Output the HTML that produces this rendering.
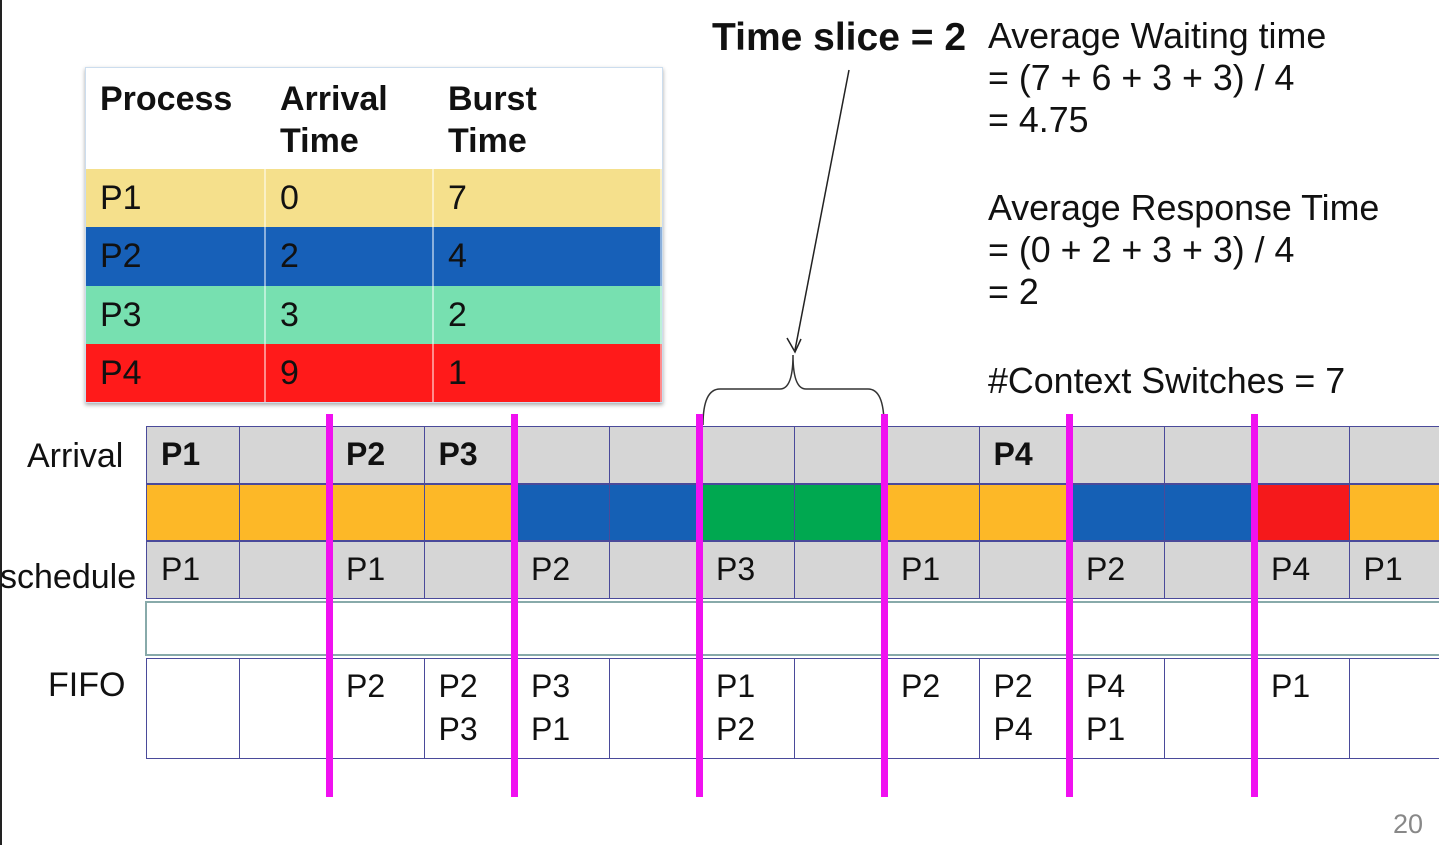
<!DOCTYPE html>
<html><head><meta charset="utf-8"><style>
body{margin:0;width:1439px;height:845px;background:#fff;position:relative;overflow:hidden;font-family:"Liberation Sans",Arial,sans-serif;color:#111}
.a{position:absolute}
.cell{position:absolute;box-sizing:border-box;border:1px solid #4a4a9a;font-size:32px;padding-left:14px}
.t{position:absolute;font-size:34px;line-height:42px}
.tb{position:absolute;box-sizing:border-box;font-size:34px;padding-left:14px;padding-top:10px;border-right:2px solid rgba(255,255,255,.5)}
</style></head><body>
<div class="a" style="left:0;top:0;width:2px;height:845px;background:#222"></div>

<div class="a" style="left:85px;top:67px;width:576px;height:334px;box-shadow:0 2px 4px #aaa;border:1px solid #cde">
  <div class="tb" style="left:0;top:0;width:180px;height:101px;font-weight:bold;line-height:42px">Process</div>
  <div class="tb" style="left:180px;top:0;width:168px;height:101px;font-weight:bold;line-height:42px">Arrival<br>Time</div>
  <div class="tb" style="left:348px;top:0;width:228px;height:101px;font-weight:bold;line-height:42px">Burst<br>Time</div>
  <div id="tbrows"></div>
</div>

<div class="t" style="left:712px;top:17px;font-weight:bold;font-size:39px">Time slice = 2</div>
<div class="t" style="left:988px;top:15px;font-size:35.8px">Average Waiting time<br>= (7 + 6 + 3 + 3) / 4<br>= 4.75</div>
<div class="t" style="left:988px;top:187px;font-size:35.8px">Average Response Time<br>= (0 + 2 + 3 + 3) / 4<br>= 2</div>
<div class="t" style="left:988px;top:360px;font-size:35.8px">#Context Switches = 7</div>

<svg class="a" style="left:0;top:0" width="1439" height="845">
  <line x1="849" y1="70" x2="795" y2="350" stroke="#222" stroke-width="1.5"/>
  <path d="M787 338 L795 352 L801 339" fill="none" stroke="#222" stroke-width="1.5"/>
  <path d="M703 425 Q703 389 720 389 L780 389 Q793 389 793 355 Q793 389 806 389 L868 389 Q884 389 884 425" fill="none" stroke="#333" stroke-width="1.5"/>
</svg>

<div class="t" style="left:27px;top:435px;font-size:34px">Arrival</div>
<div class="t" style="left:0;top:556px;font-size:34px">schedule</div>
<div class="t" style="left:48px;top:664px;font-size:34px">FIFO</div>

<div id="grid"></div>
<div class="a" style="left:145px;top:601px;width:1300px;height:55px;box-sizing:border-box;border:2px solid #8aa;background:#fff"></div>
<div id="mag"></div>
<div class="t" style="left:1393px;top:803px;font-size:27px;color:#888">20</div>

<script>
const tProc=["P1","P2","P3","P4"];
const tArr=["0","2","3","9"];
const tBurst=["7","4","2","1"];
const tColors=["#F5E08C","#1760B8","#77E0B0","#FF1A1A"];
const arrivals=["P1","","P2","P3","","","","","","P4","","","","",""];
const running=["P1","P1","P1","P1","P2","P2","P3","P3","P1","P1","P2","P2","P4","P1"];
const schedule=["P1","","P1","","P2","","P3","","P1","","P2","","P4","P1"];
const fifo=[[],[],["P2"],["P2","P3"],["P3","P1"],[],["P1","P2"],[],["P2"],["P2","P4"],["P4","P1"],[],["P1"],[]];
const switches=[2,4,6,8,10,12];
const pColor={P1:"#FDB827",P2:"#1560B5",P3:"#00A850",P4:"#F5191B"};

const tb=document.getElementById('tbrows');
const cw=[180,168,228],cx=[0,180,348];
tProc.forEach((p,i)=>{
  [p,tArr[i],tBurst[i]].forEach((v,j)=>{
    const d=document.createElement('div');d.className='tb';
    
    
    d.style.cssText=`left:${cx[j]}px;top:${101+i*58.3}px;width:${cw[j]}px;height:58.3px;background:${tColors[i]}`;
    d.textContent=v;tb.appendChild(d);
  });
});

const g=document.getElementById('grid');
const x0=146,w=92.5;
const X=i=>x0+i*w;
function cell(name,i,top,h,bg,html,bold){
  const d=document.createElement('div');d.className='cell';
  
  
  d.style.cssText=`left:${X(i)}px;top:${top}px;width:${w+1}px;height:${h}px;background:${bg};line-height:43px;padding-top:6px;${bold?'font-weight:bold;':''}`;
  d.innerHTML=html;g.appendChild(d);
}
for(let i=0;i<14;i++){
  cell('arrival-cell',i,426,58,'#D6D6D6',arrivals[i],true);
  cell('run-cell',i,484,57,pColor[running[i]],'');
  cell('schedule-cell',i,541,58,'#D6D6D6',schedule[i]);
  cell('fifo-cell',i,658,101,'#fff',fifo[i].join('<br>'));
}
const m=document.getElementById('mag');
switches.forEach(s=>{
  const d=document.createElement('div');d.className='a';
  
  
  d.style.cssText=`left:${X(s)-5}px;top:414px;width:7px;height:383px;background:#F011F0`;
  m.appendChild(d);
});
</script>
</body></html>
